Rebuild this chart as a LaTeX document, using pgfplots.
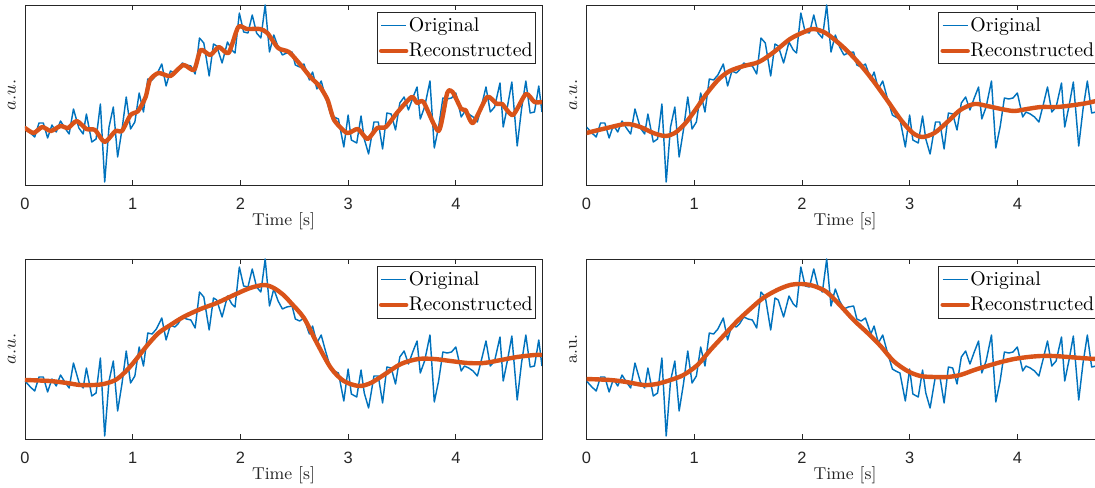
\documentclass[border=0pt]{standalone}
\usepackage{fontspec}
\usepackage{pgfplots}
\usepackage{pgfplotstable}
\pgfplotsset{compat=1.18}
\newfontfamily\ticksf{Liberation Sans}
\definecolor{mblue}{RGB}{0,114,189}
\definecolor{morange}{RGB}{217,83,25}
\definecolor{axgray}{RGB}{38,38,38}

\pgfplotstableread{
t v
0.00 58
0.05 52
0.09 48
0.13 62
0.17 62
0.21 47
0.25 60
0.29 53
0.33 64
0.37 57
0.41 51
0.45 76
0.50 57
0.54 51
0.57 71
0.62 43
0.66 46
0.70 81
0.74 3
0.78 58
0.82 78
0.86 28
0.90 55
0.94 88
0.98 56
1.02 63
1.06 92
1.10 73
1.14 106
1.18 105
1.22 110
1.27 121
1.31 99
1.35 114
1.39 112
1.42 115
1.46 122
1.50 120
1.54 119
1.58 111
1.62 147
1.66 142
1.71 109
1.75 141
1.78 139
1.83 122
1.88 143
1.92 135
1.95 132
1.99 172
2.03 153
2.07 152
2.11 170
2.15 152
2.19 147
2.23 180
2.27 133
2.31 150
2.35 138
2.39 130
2.43 132
2.48 133
2.51 120
2.55 118
2.59 121
2.64 105
2.67 113
2.71 96
2.75 104
2.79 88
2.84 70
2.87 68
2.91 66
2.96 38
3.00 70
3.03 45
3.08 42
3.12 69
3.15 46
3.19 31
3.24 63
3.28 63
3.32 36
3.36 72
3.40 71
3.44 55
3.48 82
3.52 88
3.56 75
3.60 87
3.64 98
3.67 66
3.71 78
3.76 104
3.80 37
3.84 58
3.88 87
3.92 86
3.96 87
4.00 92
4.05 68
4.08 73
4.12 71
4.16 68
4.20 63
4.24 80
4.28 98
4.32 73
4.36 78
4.41 102
4.44 58
4.48 79
4.52 103
4.57 39
4.61 76
4.65 104
4.69 72
4.73 73
4.77 99
4.80 73
}\origdata

\pgfplotsset{
  panel/.style={
    anchor=south west, scale only axis,
    width=258.5pt, height=90pt,
    xmin=0, xmax=4.8, ymin=0, ymax=180,
    xtick={0,1,2,3,4}, ytick=\empty,
    tick align=inside, xtick pos=both, xticklabel pos=lower,
    major tick length=2.5pt,
    axis line style={draw=axgray, line width=0.4pt},
    every tick/.style={draw=axgray, line width=0.4pt},
    /pgf/number format/assume math mode=true,
    xticklabel style={font=\ticksf\fontsize{8.2}{9}\selectfont, text=axgray, yshift=-3pt},
    xlabel={Time [s]},
    xlabel style={at={(axis description cs:0.5,0)}, anchor=north, inner sep=0pt, yshift=-13.5pt, font=\fontsize{8.6}{10}\selectfont, text=axgray},
    ylabel style={at={(axis description cs:-0.0174,0.5)}, anchor=south, inner sep=0pt, font=\fontsize{8.6}{10}\selectfont, text=axgray},
    legend style={at={(1,1)}, anchor=north east, xshift=-3.2pt, yshift=-3.6pt,
      draw=axgray, line width=0.4pt, fill=white, inner xsep=1pt, inner ysep=0.8pt,
      font=\fontsize{9.9}{12}\selectfont, row sep=1.2pt,
      nodes={inner xsep=0.3pt, inner ysep=1.5pt}},
    legend cell align=left,
    legend image code/.code={\draw[##1] (0pt,0pt) -- (12.5pt,0pt);},
  },
  orig/.style={mblue, line width=0.72pt, line join=round},
  rec/.style={morange, line width=2.2pt, line join=round, line cap=round},
}

\begin{document}
\begin{tikzpicture}
\useasboundingbox (0,0) rectangle (547.5pt,243.5pt);
\clip (0,0) rectangle (547.5pt,243.5pt);

% top left
\begin{axis}[panel, at={(12.5pt,151pt)}, ylabel={$a.u.$}]
\addplot[orig] table[x=t,y=v] {\origdata};
\addplot[rec, smooth, tension=0.4] coordinates {
(0,57) (0.08,52) (0.16,58) (0.24,54) (0.33,59) (0.40,57) (0.48,64) (0.57,56) (0.65,55)
(0.74,43) (0.84,54) (0.90,54) (0.98,70) (1.05,74) (1.12,88) (1.16,105) (1.24,112)
(1.35,109) (1.47,120) (1.57,115) (1.63,135) (1.72,130) (1.80,138) (1.89,132) (1.98,158)
(2.06,156) (2.18,156) (2.25,152) (2.35,137) (2.45,133) (2.56,120) (2.65,108) (2.74,98)
(2.81,85) (2.87,65) (2.99,52) (3.09,56) (3.18,46) (3.27,57) (3.35,58) (3.46,73) (3.59,88)
(3.64,82) (3.70,83) (3.84,54) (3.92,92) (3.97,93) (4.05,76) (4.09,75) (4.16,62) (4.29,88)
(4.38,81) (4.43,81) (4.53,70) (4.65,91) (4.73,83) (4.80,83)};
\legend{Original,Reconstructed}
\end{axis}

% top right
\begin{axis}[panel, at={(293.25pt,151pt)}, ylabel={$a.u.$}]
\addplot[orig] table[x=t,y=v] {\origdata};
\addplot[rec, smooth] coordinates {
(0,52) (0.19,57) (0.37,61) (0.50,58) (0.62,52) (0.73,49) (0.82,52) (0.92,62) (1.01,75)
(1.12,92) (1.23,106) (1.33,114) (1.46,119) (1.60,123) (1.74,133) (1.89,146) (2.02,153)
(2.11,156) (2.22,152) (2.34,142) (2.45,131) (2.56,118) (2.67,103) (2.79,85) (2.92,65)
(3.03,52) (3.12,48) (3.23,52) (3.35,63) (3.47,75) (3.60,81) (3.72,79) (3.85,76) (3.97,74)
(4.09,76) (4.22,78) (4.37,78) (4.53,80) (4.65,82) (4.73,84) (4.80,85)};
\legend{Original,Reconstructed}
\end{axis}

% bottom left
\begin{axis}[panel, at={(12.5pt,24pt)}, ylabel={$a.u.$}]
\addplot[orig] table[x=t,y=v] {\origdata};
\addplot[rec, smooth] coordinates {
(0,59) (0.23,58) (0.39,56) (0.51,54) (0.64,54) (0.73,55) (0.84,59) (0.93,67) (1.02,78)
(1.13,93) (1.24,106) (1.35,114) (1.47,122) (1.63,130) (1.78,136) (1.94,144) (2.09,151)
(2.22,154) (2.31,151) (2.40,144) (2.47,136) (2.59,121) (2.71,96) (2.84,71) (2.96,58)
(3.10,53) (3.21,56) (3.33,64) (3.49,75) (3.65,80) (3.80,80) (3.95,78) (4.11,76) (4.26,76)
(4.42,79) (4.57,82) (4.73,84) (4.80,84)};
\legend{Original,Reconstructed}
\end{axis}

% bottom right
\begin{axis}[panel, at={(293.25pt,24pt)}, ylabel={a.u.}]
\addplot[orig] table[x=t,y=v] {\origdata};
\addplot[rec, smooth] coordinates {
(0,60) (0.22,59) (0.37,57) (0.53,54) (0.65,55) (0.78,59) (0.90,64) (1.03,74) (1.15,89)
(1.27,103) (1.40,118) (1.52,130) (1.64,141) (1.77,149) (1.89,154) (2.00,155) (2.11,153)
(2.23,147) (2.36,133) (2.48,119) (2.61,106) (2.73,93) (2.85,78) (2.98,68) (3.10,63)
(3.23,62) (3.35,62) (3.47,64) (3.60,69) (3.72,73) (3.85,77) (3.97,80) (4.10,82) (4.22,83)
(4.34,83) (4.47,82) (4.59,81) (4.73,80) (4.80,80)};
\legend{Original,Reconstructed}
\end{axis}
\end{tikzpicture}
\end{document}
